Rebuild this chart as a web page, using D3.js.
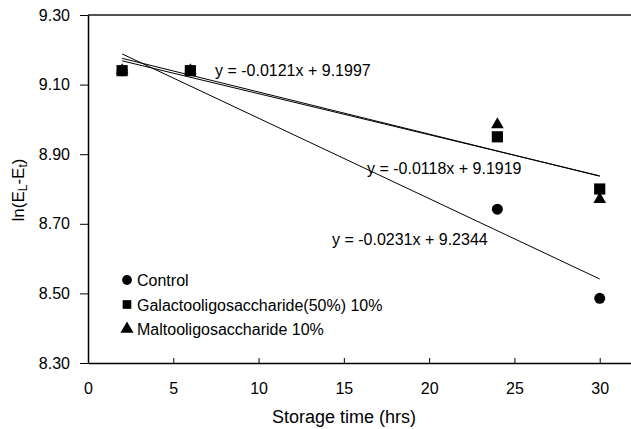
<!DOCTYPE html>
<html>
<head>
<meta charset="utf-8">
<script src="https://cdn.jsdelivr.net/npm/d3@7"></script>
<style>
  body { margin: 0; background: #fff; }
  text { font-family: "Liberation Sans", Arial, sans-serif; fill: #000; }
</style>
</head>
<body>
<div id="chart"></div>
<script>
// Data
const hours = [2, 6, 24, 30];
const control = [9.14, 9.14, 8.742, 8.486];
const galacto = [9.14, 9.14, 8.95, 8.80];
const malto = [9.14, 9.14, 8.985, 8.77];

const seriesNames = ["Control", "Galactooligosaccharide(50%) 10%", "Maltooligosaccharide 10%"];
const seriesValues = [control, galacto, malto];
const symbols = [d3.symbolCircle, d3.symbolSquare, d3.symbolTriangle];
const symbolSizes = [95, 125, 70];

// Fitted trend lines: slope, intercept, equation label
const slopes = [-0.0231, -0.0118, -0.0121];
const intercepts = [9.2344, 9.1919, 9.1997];
const eqLabels = ["y = -0.0231x + 9.2344", "y = -0.0118x + 9.1919", "y = -0.0121x + 9.1997"];

const xTicks = [0, 5, 10, 15, 20, 25, 30];
const yTicks = [8.30, 8.50, 8.70, 8.90, 9.10, 9.30];

const width = 631, height = 429;

const svg = d3.select("#chart")
    .append("svg")
    .attr("width", width)
    .attr("height", height);

const x = d3.scaleLinear().domain([0, 35]).range([88, 685]);
const y = d3.scaleLinear().domain([8.30, 9.30]).range([363, 15]);

// Top frame line
svg.append("line")
    .attr("x1", x(0)).attr("x2", width)
    .attr("y1", y(9.30)).attr("y2", y(9.30))
    .attr("stroke", "#555").attr("stroke-width", 2);

// X axis (ticks pointing inside)
const xAxis = svg.append("g")
    .attr("transform", `translate(0,${y(8.30)})`)
    .call(d3.axisBottom(x).tickValues(xTicks).tickSizeInner(-5).tickSizeOuter(0).tickPadding(20));
xAxis.select(".domain").attr("stroke", "#000").attr("stroke-width", 1.5);
xAxis.selectAll("text").style("font-size", "16px").attr("font-family", "Liberation Sans, Arial, sans-serif");

// Y axis
const yAxis = svg.append("g")
    .attr("transform", `translate(${x(0)},0)`)
    .call(d3.axisLeft(y).tickValues(yTicks).tickFormat(d3.format(".2f")).tickSizeInner(8).tickSizeOuter(0).tickPadding(10));
yAxis.select(".domain").attr("stroke", "#000").attr("stroke-width", 1.5);
yAxis.selectAll("text").style("font-size", "16px").attr("font-family", "Liberation Sans, Arial, sans-serif");

// Trend lines
seriesValues.forEach((vals, i) => {
    const x0 = d3.min(hours), x1 = d3.max(hours);
    svg.append("line")
        .attr("x1", x(x0)).attr("y1", y(slopes[i] * x0 + intercepts[i]))
        .attr("x2", x(x1)).attr("y2", y(slopes[i] * x1 + intercepts[i]))
        .attr("stroke", "#000").attr("stroke-width", 1);
});

// Points (square drawn last so it sits on top)
[0, 2, 1].forEach(i => {
    svg.selectAll(".pt" + i)
        .data(hours.map((h, j) => ({ h, v: seriesValues[i][j] })))
        .enter()
        .append("path")
        .attr("d", d3.symbol().type(symbols[i]).size(symbolSizes[i]))
        .attr("transform", d => `translate(${x(d.h)},${y(d.v)})`)
        .attr("fill", "#000");
});

// Equation labels
const eqPos = [[332, 245], [367, 174], [215, 76]];
eqLabels.forEach((t, i) => {
    svg.append("text")
        .attr("x", eqPos[i][0]).attr("y", eqPos[i][1])
        .style("font-size", "16px")
        .text(t);
});

// Legend
const legend = svg.append("g").attr("transform", "translate(127,280)");
seriesNames.forEach((name, i) => {
    const g = legend.append("g").attr("transform", `translate(0,${i * 24.5})`);
    g.append("path")
        .attr("d", d3.symbol().type(symbols[i]).size(75))
        .attr("fill", "#000");
    g.append("text")
        .attr("x", 10).attr("y", 6)
        .style("font-size", "16px")
        .text(name);
});

// X axis title
svg.append("text")
    .attr("x", 344).attr("y", 423)
    .style("text-anchor", "middle")
    .style("font-size", "18px")
    .text("Storage time (hrs)");

// Y axis title with subscripts
const yt = svg.append("text")
    .attr("transform", "translate(24,190) rotate(-90)")
    .style("text-anchor", "middle")
    .style("font-size", "17px");
yt.append("tspan").text("ln(E");
yt.append("tspan").attr("font-size", "12px").attr("dy", 3).text("L");
yt.append("tspan").attr("dy", -3).text("-E");
yt.append("tspan").attr("font-size", "12px").attr("dy", 3).text("t");
yt.append("tspan").attr("dy", -3).text(")");
</script>
</body>
</html>
